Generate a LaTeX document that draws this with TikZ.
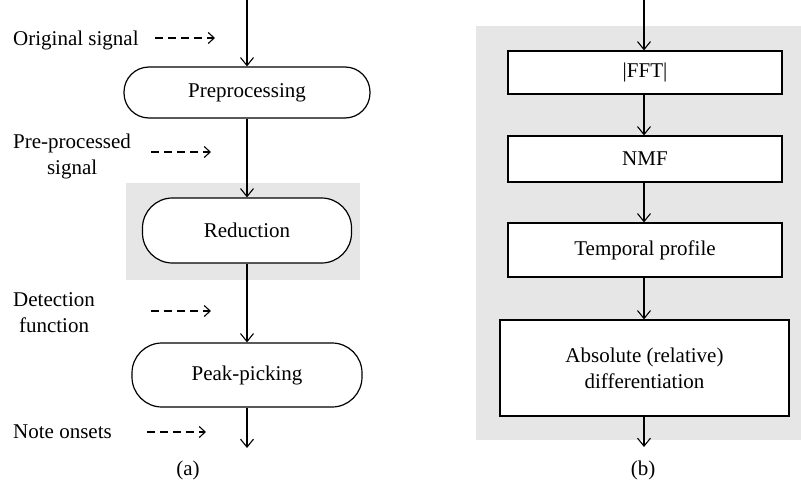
\documentclass[tikz,border=0pt]{standalone}
\usepackage{fontspec}
\setmainfont{Liberation Serif}
\usetikzlibrary{arrows.meta}
\definecolor{panelgrey}{HTML}{E6E6E6}
\tikzset{
  txt/.style={font=\fontsize{21}{26}\selectfont, inner sep=0pt},
  lbl/.style={txt, align=center, anchor=west},
  pill/.style={draw, line width=1.2pt, txt, rounded corners=#1},
  blk/.style={draw, line width=1.2pt, fill=white, txt},
  flow/.style={line width=1.1pt, -{Straight Barb[length=8pt,width=13pt,line width=1.1pt]}},
  hint/.style={line width=1.1pt, dash pattern=on 8pt off 5pt, -{Straight Barb[length=6pt,width=11pt,line width=1.1pt]}}
}
\begin{document}
\begin{tikzpicture}[x=1pt,y=-1pt]
\useasboundingbox (0,0) rectangle (801,490);
% grey panels
\fill[panelgrey] (126,183) rectangle (360,280);
\fill[panelgrey] (476,26) rectangle (801,440);

% ---------- (a) ----------
\node[pill=25pt, minimum width=246pt, minimum height=51pt, fill=white] (pre) at (247,92.5) {Preprocessing};
\node[pill=30pt, minimum width=209pt, minimum height=65pt, fill=white] (red) at (247,230.5) {Reduction};
\node[pill=30pt, minimum width=230pt, minimum height=64pt, fill=white] (peak) at (247,375) {Peak-picking};
\coordinate (atop) at (247,0);
\coordinate (abot) at (247,448);
\draw[flow] (atop) -- (pre.north);
\draw[flow] (pre.south) -- (red.north);
\draw[flow] (red.south) -- (peak.north);
\draw[flow] (peak.south) -- (abot);

\node[lbl] (l1) at (13,40) {Original signal};
\node[lbl] (l2) at (13,156) {Pre-processed\\signal};
\node[lbl] (l3) at (13,313) {Detection\\function};
\node[lbl] (l4) at (13,432) {Note onsets};
\coordinate (d1a) at (155,38); \coordinate (d1b) at (215,38);
\coordinate (d2a) at (151,152); \coordinate (d2b) at (211,152);
\coordinate (d3a) at (151,311); \coordinate (d3b) at (211,311);
\coordinate (d4a) at (147,432); \coordinate (d4b) at (206,432);
\draw[hint] (d1a) -- (d1b);
\draw[hint] (d2a) -- (d2b);
\draw[hint] (d3a) -- (d3b);
\draw[hint] (d4a) -- (d4b);
\node[txt] (capa) at (188,470) {(a)};

% ---------- (b) ----------
\node[blk, minimum width=274pt, minimum height=43pt] (fft) at (645,72.5) {|FFT|};
\node[blk, minimum width=274pt, minimum height=46pt] (nmf) at (645,159) {NMF};
\node[blk, minimum width=274pt, minimum height=54pt] (temp) at (645,250) {Temporal profile};
\node[blk, minimum width=289pt, minimum height=96pt, align=center] (abs) at (644.5,368) {Absolute (relative)\\differentiation};
\coordinate (btop) at (644,0);
\coordinate (bbot) at (644,447);
\draw[flow] (btop) -- (btop |- fft.north);
\draw[flow] (fft.south -| btop) -- (btop |- nmf.north);
\draw[flow] (nmf.south -| btop) -- (btop |- temp.north);
\draw[flow] (temp.south -| btop) -- (btop |- abs.north);
\draw[flow] (abs.south -| btop) -- (bbot);
\node[txt] (capb) at (643,470) {(b)};
\end{tikzpicture}
\end{document}
